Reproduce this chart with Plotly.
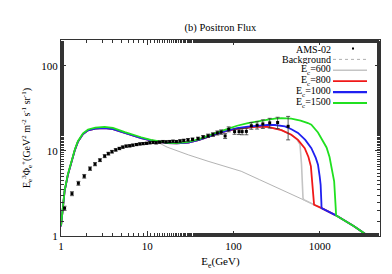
import plotly.graph_objects as go

# AMS-02 positron flux data (E^3 * flux)
ams_E = [1.10, 1.34, 1.59, 1.86, 2.17, 2.48, 2.83, 3.21, 3.54, 3.90, 4.31, 4.75, 5.2, 5.7,
         6.25, 6.8, 7.5, 8.2, 8.95, 9.8, 10.7, 11.7, 12.7, 13.9, 15.2, 16.6, 18.2, 19.9,
         21.8, 24.0, 26.5, 29.7, 33.5, 38.8, 44.5, 50.8, 57.8, 65, 72, 80, 88, 103, 116,
         126, 141, 161, 188, 219, 263, 325, 430]
ams_F = [2.12, 3.15, 4.17, 5.04, 6.2, 7.0, 7.8, 8.7, 9.3, 9.8, 10.3, 10.7, 11.1, 11.4,
         11.5, 11.7, 11.9, 12.1, 12.2, 12.3, 12.5, 12.6, 12.5, 12.7, 12.9, 12.8, 12.9, 13.0,
         12.9, 13.1, 13.3, 13.5, 13.7, 14.0, 14.6, 15.1, 15.6, 16.3, 16.7, 15.0, 18.0, 16.9, 16.9,
         16.9, 17.0, 19.8, 20.1, 20.8, 21.4, 21.6, 19.5]
ams_err = [0.12, 0.17, 0.22, 0.25, 0.3, 0.3, 0.3, 0.35, 0.35, 0.35, 0.35, 0.35, 0.35, 0.35,
           0.35, 0.35, 0.35, 0.35, 0.35, 0.35, 0.4, 0.4, 0.4, 0.4, 0.4, 0.4, 0.4, 0.4,
           0.4, 0.45, 0.45, 0.5, 0.5, 0.55, 0.6, 0.7, 0.8, 0.9, 1.0, 1.0, 1.2, 1.2, 1.3,
           1.4, 1.5, 1.8, 2.0, 2.4, 2.8, 3.3, 6.0]

# Background curve
bg_E = [1.0, 1.05, 1.1, 1.2, 1.32, 1.45, 1.57, 1.8, 2.06, 2.5, 3.2, 4.0, 5.5, 7.0, 8.5, 11,
        13.3, 17, 22.7, 30, 50.7, 100, 123, 200, 400, 653, 860, 1050, 1540, 2500, 3640, 4500]
bg_F = [1.3, 2.2, 3.35, 5.2, 7.6, 10.3, 12.8, 15.8, 17.5, 18.3, 18.6, 18.1, 16.3, 15.0, 14.2, 13.3,
        12.6, 11.1, 9.9, 9.0, 7.57, 6.2, 5.77, 4.6, 3.35, 2.67, 2.33, 2.13, 1.75, 1.3, 1.0, 0.8]

# Signal + background curves for different cutoff energies E_c
low_E = [1.0, 1.05, 1.1, 1.2, 1.32, 1.45, 1.57, 1.8, 2.06, 2.5, 3.2, 4.0, 5.5, 7.0, 8.5, 11,
         13.3, 17, 22, 30, 40, 50.8, 65, 86, 110, 147]
low_F = [1.3, 2.2, 3.35, 5.2, 7.6, 10.3, 12.8, 15.8, 17.5, 18.3, 18.6, 18.1, 16.3, 15.0, 14.2, 13.3,
         12.8, 12.4, 12.3, 12.5, 13.5, 14.8, 16.0, 17.3, 18.2, 18.8]

e600_E = low_E + [193, 250, 302, 360, 468, 540, 590, 615, 640, 653, 860, 1050, 1540, 2500, 3640, 4500]
e600_F = low_F + [19.3, 19.2, 18.5, 17.6, 15.5, 13.8, 12.0, 7.0, 2.8, 2.67, 2.33, 2.13, 1.75, 1.3, 1.0, 0.8]

e800_E = low_E + [193, 250, 302, 360, 468, 560, 670, 740, 790, 825, 845, 860, 1050, 1540, 2500, 3640, 4500]
e800_F = low_F + [19.3, 19.2, 18.5, 17.6, 15.5, 13.5, 10.8, 8.5, 6.6, 4.0, 2.6, 2.33, 2.13, 1.75, 1.3, 1.0, 0.8]

e1000_E = low_E + [193, 250, 302, 395, 470, 560, 680, 800, 900, 955, 1000, 1025, 1045, 1050, 1540, 2500, 3640, 4500]
e1000_F = [1.3, 2.2, 3.35, 5.2, 7.6, 10.3, 12.8, 15.8, 17.5, 18.3, 18.6, 18.1, 16.3, 15.0, 14.2, 13.3,
           12.8, 12.4, 12.3, 12.5, 13.5, 14.8, 16.0, 17.4, 18.5, 19.3] + \
          [20.0, 20.3, 20.2, 19.5, 18.0, 16.3, 13.5, 10.8, 8.3, 6.9, 5.0, 4.0, 2.5, 2.13, 1.75, 1.3, 1.0, 0.8]

e1500_E = [1.0, 1.05, 1.1, 1.2, 1.32, 1.45, 1.57, 1.8, 2.06, 2.5, 3.2, 4.0, 5.5, 7.0, 8.5, 11,
           13.3, 17, 22, 30, 40, 50.8, 65, 86, 110, 147, 193, 253, 302, 360, 468, 600, 730, 800,
           955, 1100, 1200, 1300, 1400, 1470, 1530, 1550, 2500, 3640, 4500]
e1500_F = [1.32, 2.25, 3.4, 5.3, 7.7, 10.5, 13.0, 16.1, 17.9, 18.8, 19.2, 18.7, 16.7, 15.3, 14.5, 13.5,
           13.0, 12.5, 12.4, 12.8, 13.8, 15.2, 16.6, 18.2, 19.8, 21.3, 22.5, 23.4, 24.0, 24.3, 24.0,
           22.8, 21.3, 20.4, 16.5, 12.5, 11.0, 8.5, 6.0, 4.4, 2.2, 1.74, 1.3, 1.0, 0.8]

FONT = "Liberation Serif"

fig = go.Figure()

fig.add_trace(go.Scatter(x=bg_E, y=bg_F, mode="lines", line=dict(color="#a0a0a0", width=0.8),
                         name="Background", showlegend=False))
fig.add_trace(go.Scatter(x=e600_E, y=e600_F, mode="lines", line=dict(color="#c4c4c4", width=1.6),
                         name="E_c=600", showlegend=False))
fig.add_trace(go.Scatter(x=e800_E, y=e800_F, mode="lines", line=dict(color="#f01818", width=1.8),
                         name="E_c=800", showlegend=False))
fig.add_trace(go.Scatter(x=e1000_E, y=e1000_F, mode="lines", line=dict(color="#2020f0", width=1.8),
                         name="E_c=1000", showlegend=False))
fig.add_trace(go.Scatter(x=e1500_E, y=e1500_F, mode="lines", line=dict(color="#20e020", width=1.8),
                         name="E_c=1500", showlegend=False))
fig.add_trace(go.Scatter(x=ams_E, y=ams_F, mode="markers",
                         marker=dict(color="black", size=3, symbol="square"),
                         error_y=dict(type="data", array=ams_err, color="#333333", thickness=0.8, width=2),
                         name="AMS-02", showlegend=False))

# gnuplot-style key (text right-aligned, sample to the right)
L, R, T, B = 53, 372, 32, 228
def px(x):
    return (x - L) / (R - L)
def py(y):
    return (B - y) / (B - T)

key_labels = ["AMS-02", "Background", "E<sub>c</sub>=600", "E<sub>c</sub>=800",
              "E<sub>c</sub>=1000", "E<sub>c</sub>=1500"]
key_styles = [None, ("#9a9a9a", 0.8, "dot"), ("#c4c4c4", 1.6, "solid"), ("#f01818", 1.8, "solid"),
              ("#2020f0", 2.4, "solid"), ("#20e020", 1.8, "solid")]
key_y = [40.5, 51.4, 62.3, 73.2, 84.1, 95.0]
for lab, sty, yy in zip(key_labels, key_styles, key_y):
    fig.add_annotation(x=px(324), y=py(yy), xref="paper", yref="paper", text=lab,
                       showarrow=False, xanchor="right", yanchor="middle",
                       height=10, valign="middle", borderpad=0,
                       font=dict(family=FONT, size=10, color="black"))
    if sty is None:
        fig.add_shape(type="rect", xref="paper", yref="paper",
                      x0=px(344), x1=px(346), y0=py(yy + 1), y1=py(yy - 1),
                      fillcolor="black", line=dict(width=0))
    else:
        fig.add_shape(type="line", xref="paper", yref="paper",
                      x0=px(325), x1=px(359), y0=py(yy), y1=py(yy),
                      line=dict(color=sty[0], width=sty[1], dash=sty[2]))

axis_common = dict(type="log", ticks="inside", ticklen=5, tickwidth=1, tickcolor="#333333",
                   showline=True, linecolor="#333333", linewidth=1.2, mirror="ticks",
                   showgrid=False, zeroline=False,
                   tickfont=dict(family=FONT, size=11, color="black"),
                   minor=dict(ticks="inside", ticklen=2.5, tickcolor="#333333", showgrid=False))

fig.update_layout(
    width=392, height=274,
    margin=dict(l=L, r=392 - R, t=T, b=274 - B),
    paper_bgcolor="white", plot_bgcolor="white",
    font=dict(family=FONT, size=11, color="black"),
    title=dict(text="(b) Positron Flux", x=(212.5) / 392, xanchor="center",
               y=1 - 19 / 274, yanchor="middle", font=dict(family=FONT, size=10.5, color="black")),
    xaxis=dict(range=[0, 3.699], tickvals=[1, 10, 100, 1000], ticktext=["1", "10", "100", "1000"],
               title=dict(text="E<sub>e</sub>(GeV)", font=dict(family=FONT, size=11), standoff=6),
               **axis_common),
    yaxis=dict(range=[0, 2.305], tickvals=[1, 10, 100], ticktext=["1", "10", "100"],
               title=dict(text="E<sub>e</sub><sup>3</sup>Φ<sub>e</sub><sup>+</sup>(GeV<sup>2</sup> m<sup>-2</sup> s<sup>-1</sup> sr<sup>-1</sup>)",
                          font=dict(family=FONT, size=10), standoff=8),
               **axis_common),
    showlegend=False,
)

fig.write_html("out.html")
